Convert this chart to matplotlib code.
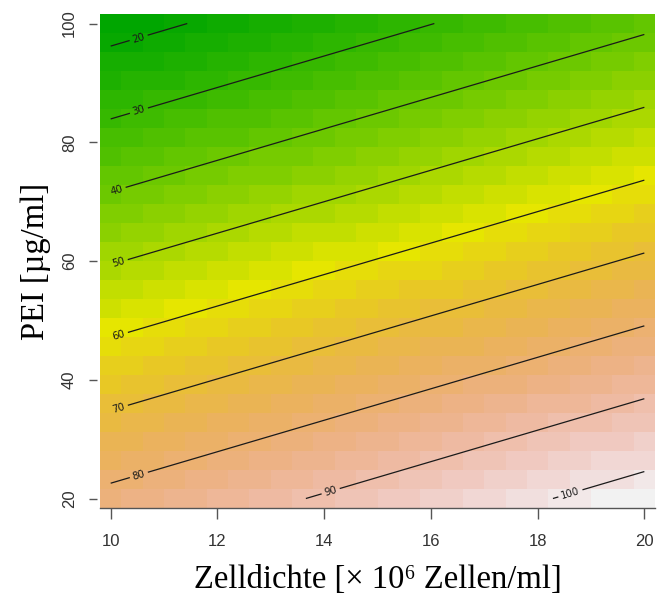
import colorsys
import numpy as np
import matplotlib
matplotlib.use("Agg")
import matplotlib.pyplot as plt
from matplotlib.colors import ListedColormap, Normalize

# fitted first-order response surface: yield = b0 + bx * density + by * pei
b0 = 76.8
bx = 2.16
by = -0.815

density_range = [10, 20]
pei_range = [20, 100]
n_grid = 26

levels = [20, 30, 40, 50, 60, 70, 80, 90, 100]
label_pos = [(10.54, 97.1), (10.54, 85.0), (10.12, 71.7), (10.17, 59.2),
             (10.17, 47.0), (10.17, 34.7), (10.54, 23.6), (14.14, 20.7),
             (18.62, 20.7)]

xticks = [10, 12, 14, 16, 18, 20]
yticks = [20, 40, 60, 80, 100]


def terrain_colors(n):
    # same construction as R's terrain.colors()
    k = n // 2
    cols = []
    for h, s, v in zip(np.linspace(4/12, 2/12, k), np.linspace(1, 1, k),
                       np.linspace(0.65, 0.9, k)):
        cols.append(colorsys.hsv_to_rgb(h, s, v))
    m = n - k + 1
    for h, s, v in zip(np.linspace(2/12, 0, m)[1:], np.linspace(1, 0, m)[1:],
                       np.linspace(0.9, 0.95, m)[1:]):
        cols.append(colorsys.hsv_to_rgb(h, s, v))
    return cols


x = np.linspace(*density_range, n_grid)
y = np.linspace(*pei_range, n_grid)
X, Y = np.meshgrid(x, y)
Z = b0 + bx * X + by * Y

fig = plt.figure(figsize=(6.57, 5.99), dpi=100)
ax = fig.add_axes([0.1522, 0.1519, 0.8448, 0.8247])

cmap = ListedColormap(terrain_colors(50))
ax.pcolormesh(x, y, Z, cmap=cmap, norm=Normalize(Z.min(), Z.max()),
              shading="nearest")

cs = ax.contour(X, Y, Z, levels=levels, colors="#1a1a1a", linewidths=0.9)
ax.clabel(cs, fmt="%d", fontsize=7.3, inline=True, inline_spacing=3,
          manual=label_pos)

dx = (x[1] - x[0]) / 2
dy = (y[1] - y[0]) / 2
ax.set_xlim(x[0] - dx, x[-1] + dx)
ax.set_ylim(y[0] - dy, y[-1] + dy)

for side in ["top", "right", "left"]:
    ax.spines[side].set_visible(False)
ax.spines["bottom"].set_color("#555555")
ax.spines["bottom"].set_linewidth(1.0)

ax.set_xticks(xticks)
ax.set_yticks(yticks)
ax.tick_params(axis="x", direction="out", length=8, width=1, color="#555555",
               pad=11, labelsize=12, labelcolor="#333333")
ax.tick_params(axis="y", direction="out", length=5.5, width=1, color="#555555",
               pad=9, labelsize=12, labelcolor="#333333", labelrotation=90)
# y ticks sit a little off the image, like base R axes
ax.spines["left"].set_position(("outward", 2))
for lab in ax.get_xticklabels() + ax.get_yticklabels():
    lab.set_fontfamily("Liberation Sans")
for lab in ax.get_yticklabels():
    lab.set_va("center")

serif = ["Liberation Serif", "DejaVu Serif"]
ax.set_xlabel("Zelldichte [× 10⁶ Zellen/ml]", fontsize=23.5, family=serif,
              labelpad=11)
ax.set_ylabel("PEI [µg/ml]", fontsize=23.5, family=serif, labelpad=8)

fig.savefig("out.png", dpi=100)
